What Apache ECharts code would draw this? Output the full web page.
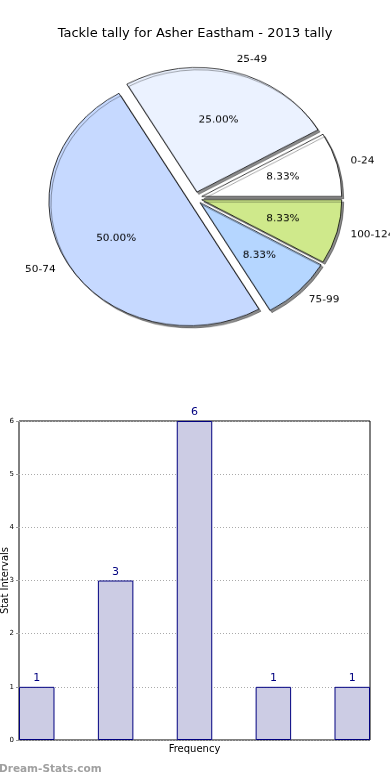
<!DOCTYPE html>
<html>
<head>
<meta charset="utf-8">
<script src="https://cdn.jsdelivr.net/npm/echarts@6/dist/echarts.min.js"></script>
<style>
  html, body { margin: 0; padding: 0; background: #fff; }
  #wrap { position: relative; width: 390px; height: 780px; overflow: hidden; }
  #main { position: absolute; left: 0; top: 0; width: 390px; height: 780px; }
  #pie { position: absolute; left: 0; top: 0; width: 390px; height: 380px;
         transform: scaleY(0.89); transform-origin: 194px 199px; pointer-events: none; }
</style>
</head>
<body>
<div id="wrap">
  <div id="main"></div>
  <div id="pie"></div>
</div>
<script>
// ---- data ----
const titleText = 'Tackle tally for Asher Eastham - 2013 tally';
const pieCategories = ['0-24', '25-49', '50-74', '75-99', '100-124'];
const pieValues = [1, 3, 6, 1, 1];
const pieColors = ['#ffffff', '#ebf2ff', '#c6d9ff', '#b5d6ff', '#cfe98b'];
const barPositions = [0, 1, 2, 3, 4];
const barValues = [1, 3, 6, 1, 1];
const xAxisName = 'Frequency';
const yAxisName = 'Stat Intervals';
const yMin = 0, yMax = 6, yInterval = 1;
const watermark = 'Dream-Stats.com';

// ---- styles ----
const FONT = 'DejaVu Sans';
const barWidthUnits = 0.45;
const pieTotal = pieValues.reduce((a, b) => a + b, 0);

const main = echarts.init(document.getElementById('main'), null, { renderer: 'canvas', width: 390, height: 780 });
main.setOption({
  animation: false,
  backgroundColor: '#fff',
  title: {
    text: titleText, left: 'center', top: 22,
    textStyle: { fontFamily: FONT, fontSize: 13, fontWeight: 'normal', color: '#000' }
  },
  grid: { left: 19, right: 20, top: 421, bottom: 40, show: true, borderColor: '#000', borderWidth: 1,
          backgroundColor: 'transparent', containLabel: false, outerBoundsMode: 'none' },
  xAxis: {
    type: 'value', min: 0, max: barPositions[barPositions.length - 1] + barWidthUnits,
    axisLine: { show: false }, axisTick: { show: false }, axisLabel: { show: false }, splitLine: { show: false },
    name: xAxisName, nameLocation: 'middle', nameGap: 4,
    nameTextStyle: { fontFamily: FONT, fontSize: 10, color: '#000', verticalAlign: 'top' }
  },
  yAxis: {
    type: 'value', min: yMin, max: yMax, interval: yInterval,
    axisLine: { show: false },
    axisTick: { show: true, length: 3, lineStyle: { color: '#999' } },
    axisLabel: { fontFamily: FONT, fontSize: 7, color: '#000', margin: 5 },
    splitLine: { show: true, lineStyle: { type: [1, 2], color: '#aaa', width: 1 } },
    name: yAxisName, nameLocation: 'middle', nameGap: 9, nameRotate: 90, nameMoveOverlap: false,
    nameTextStyle: { fontFamily: FONT, fontSize: 10, color: '#000' }
  },
  series: [{
    type: 'bar',
    data: barPositions.map((x, i) => [x + barWidthUnits / 2, barValues[i]]),
    barWidth: (barWidthUnits * 100) + '%',
    itemStyle: { color: '#cccce4', borderColor: '#000080', borderWidth: 1 },
    label: { show: true, position: 'top', distance: 3, color: '#000080', fontFamily: FONT, fontSize: 11,
             formatter: p => String(p.value[1]) },
    emphasis: { disabled: true }
  }],
  graphic: [{
    type: 'text', left: -1, top: 764,
    style: { text: watermark, fontFamily: FONT, fontSize: 10.5, fontWeight: 'bold', fill: '#a0a0a0' }
  }]
});

const pie = echarts.init(document.getElementById('pie'), null, { renderer: 'canvas', width: 390, height: 380 });
const pieData = pieCategories.map((n, i) => ({ name: n, value: pieValues[i], selected: true, itemStyle: { color: pieColors[i] } }));
pie.setOption({
  animation: false,
  series: [{
    type: 'pie', center: [195, 198], radius: 140, startAngle: 0, clockwise: false,
    selectedMode: 'multiple', selectedOffset: 7, avoidLabelOverlap: false,
    data: pieData,
    itemStyle: { borderColor: '#000', borderWidth: 0.8, shadowColor: 'rgba(0,0,0,0.45)', shadowBlur: 0, shadowOffsetX: 2, shadowOffsetY: 2.5 },
    select: { itemStyle: { borderColor: '#000', borderWidth: 0.8 } },
    label: { show: true, position: 'outside', formatter: '{b}', fontFamily: FONT, fontSize: 10.5, color: '#000', distanceToLabelLine: 0, overflow: 'none' },
    labelLine: { show: false, length: 14, length2: 0 },
    emphasis: { disabled: true }
  }, {
    type: 'pie', center: [195, 198], radius: 162, startAngle: 0, clockwise: false,
    selectedMode: 'multiple', selectedOffset: 7, avoidLabelOverlap: false, silent: true,
    data: pieData.map(d => ({ name: d.name, value: d.value, selected: true })),
    itemStyle: { color: 'rgba(0,0,0,0)', borderWidth: 0 },
    select: { itemStyle: { color: 'rgba(0,0,0,0)', borderWidth: 0 } },
    label: { show: true, position: 'inside', fontFamily: FONT, fontSize: 10.5, color: '#000',
             formatter: p => (p.value / pieTotal * 100).toFixed(2) + '%' },
    labelLine: { show: false },
    emphasis: { disabled: true }
  }]
});
</script>
</body>
</html>
